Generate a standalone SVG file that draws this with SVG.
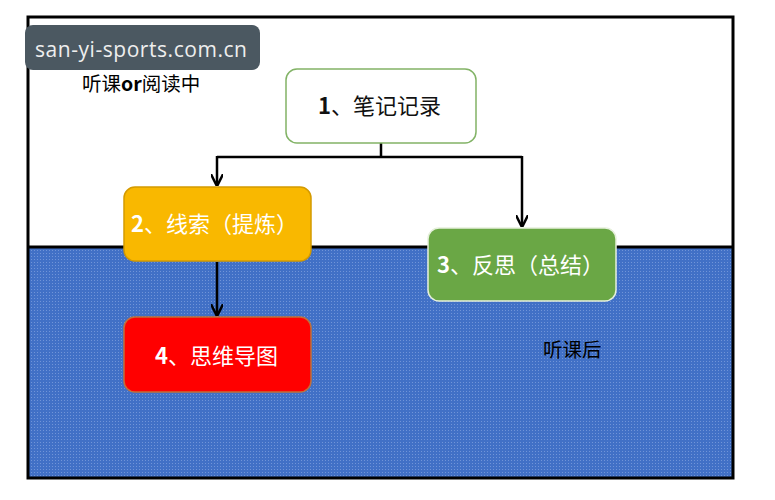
<svg xmlns="http://www.w3.org/2000/svg" width="775" height="500" viewBox="0 0 775 500">
<defs>
<pattern id="dots" width="3" height="3" patternUnits="userSpaceOnUse">
<rect width="3" height="3" fill="#4170c6"/>
<rect x="1" y="1" width="1" height="1" fill="#7094d8"/>
</pattern>
<marker id="arr" viewBox="0 0 10 10" refX="9" refY="5" markerWidth="5" markerHeight="5" orient="auto" markerUnits="strokeWidth">
<path d="M0,0 L10,5 L0,10" fill="none" stroke="#000" stroke-width="2"/>
</marker>
<style>
.lbl{font-family:"Noto Sans CJK SC","Noto Sans",sans-serif;font-size:22px;}
.cap{font-family:"Noto Sans CJK SC","Noto Sans",sans-serif;font-size:19.5px;fill:#000;}
.node rect{stroke-width:1.5;}
.con{fill:none;stroke:#000;stroke-width:2.5;}
</style>
</defs>
<rect width="775" height="500" fill="#fff"/>
<g id="frame">
<rect x="28" y="17" width="705" height="230" fill="#fff"/>
<rect x="28" y="247" width="705" height="231" fill="url(#dots)"/>
<rect x="28" y="17" width="705" height="461" fill="none" stroke="#000" stroke-width="3"/>
<line x1="28" y1="247" x2="733" y2="247" stroke="#000" stroke-width="3"/>
</g>
<g id="watermark">
<rect x="25" y="25" width="235" height="45" rx="8" fill="#4b5861"/>
<text x="35" y="57" font-family="'Open Sans','Noto Sans',sans-serif" font-size="21" fill="#eeeeee" textLength="212">san-yi-sports.com.cn</text>
</g>
<text class="cap" x="82" y="91">听课<tspan font-weight="bold">or</tspan>阅读中</text>
<text class="cap" x="543" y="357">听课后</text>
<g id="connectors">
<path class="con" d="M381,143 V157 M217,157 H522"/>
<path class="con" d="M217,156 V185" marker-end="url(#arr)"/>
<path class="con" d="M522,156 V226" marker-end="url(#arr)"/>
<path class="con" d="M217,262 V315" marker-end="url(#arr)"/>
</g>
<g id="node1" class="node">
<rect x="286" y="69" width="190" height="74" rx="11" fill="#fff" stroke="#82b366"/>
<text class="lbl" x="318" y="114" fill="#111" font-size="22.5"><tspan font-weight="bold">1</tspan>、笔记记录</text>
</g>
<g id="node2" class="node">
<rect x="124" y="187" width="187" height="74" rx="11" fill="#f9b800" stroke="#d49a00"/>
<text class="lbl" x="131" y="232" fill="#fff" font-size="21.3"><tspan font-weight="bold">2</tspan>、线索（提炼）</text>
</g>
<g id="node3" class="node">
<rect x="428" y="228" width="188" height="73" rx="11" fill="#6aa745" stroke="#e6f0dc"/>
<text class="lbl" x="437" y="273" fill="#fff" font-size="21"><tspan font-weight="bold">3</tspan>、反思（总结）</text>
</g>
<g id="node4" class="node">
<rect x="124" y="317" width="187" height="75" rx="11" fill="#ff0000" stroke="#c0703a"/>
<text class="lbl" x="155" y="364" fill="#fff" font-size="22"><tspan font-weight="bold">4</tspan>、思维导图</text>
</g>
</svg>
